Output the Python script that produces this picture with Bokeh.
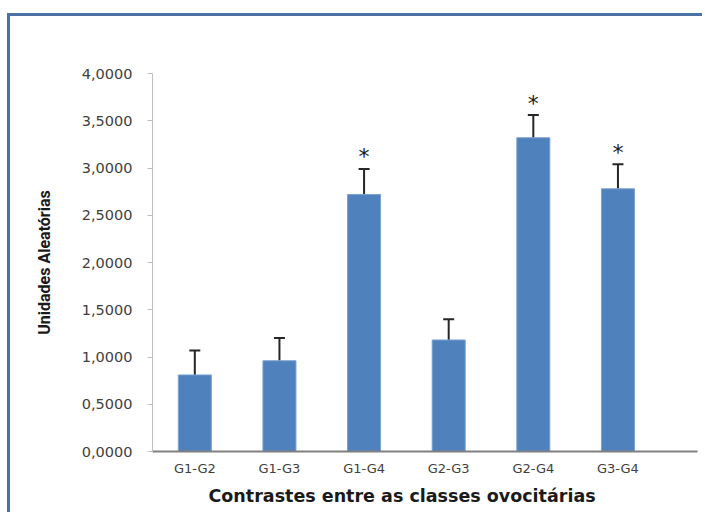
from bokeh.plotting import figure
from bokeh.models import ColumnDataSource, Whisker, TeeHead, FixedTicker, Title, InlineStyleSheet
from bokeh.core.properties import value
from bokeh.embed import file_html
from bokeh.resources import INLINE

# ---- data ----
categories = ["G1-G2", "G1-G3", "G1-G4", "G2-G3", "G2-G4", "G3-G4"]
means = [0.81, 0.96, 2.72, 1.18, 3.32, 2.78]
errors = [0.26, 0.24, 0.27, 0.22, 0.24, 0.26]
significance = ["", "", "*", "", "*", "*"]
y_ticks = [0.0, 0.5, 1.0, 1.5, 2.0, 2.5, 3.0, 3.5, 4.0]
y_tick_labels = ["0,0000", "0,5000", "1,0000", "1,5000", "2,0000",
                 "2,5000", "3,0000", "3,5000", "4,0000"]

xpos = [i + 0.5 for i in range(len(categories))]
upper = [m + e for m, e in zip(means, errors)]

src = ColumnDataSource(dict(x=xpos, top=means, upper=upper, sig=significance))

frame_css = InlineStyleSheet(css=""":host {
  margin-left: 7px; margin-top: 13px;
  border-left: 3px solid #4a72a4; border-top: 3px solid #4a72a4;
}""")

p = figure(width=695, height=499, output_backend="svg", toolbar_location=None,
           x_range=(0, 6.44), y_range=(0, 4),
           min_border_left=142, min_border_right=8, min_border_top=57, min_border_bottom=64,
           stylesheets=[frame_css])
p.background_fill_color = "white"
p.border_fill_color = "white"
p.outline_line_color = None
p.xgrid.visible = False
p.ygrid.visible = False

# bars
p.vbar(x="x", top="top", bottom=0, width=0.39, source=src,
       fill_color="#4f81bd", line_color="#7aa0d0", line_width=1)

# error bars (upward)
wh = Whisker(base="x", upper="upper", lower="top", source=src,
             line_color="#262626", line_width=2,
             upper_head=TeeHead(size=11, line_color="#262626", line_width=2),
             lower_head=None)
p.add_layout(wh)

# significance markers
p.text(x="x", y="upper", text="sig", source=src, text_align="center",
       text_baseline="alphabetic", y_offset=-12, text_font=value("DejaVu Sans"),
       text_font_size="22px", text_color="#1a1a1a")

# y axis
p.yaxis.ticker = FixedTicker(ticks=y_ticks)
p.yaxis.major_label_overrides = {t: l for t, l in zip(y_ticks, y_tick_labels)}
p.yaxis.minor_tick_line_color = None
p.yaxis.axis_line_color = "#bfbfbf"
p.yaxis.major_tick_line_color = "#bfbfbf"
p.yaxis.major_tick_out = 5
p.yaxis.major_tick_in = 0
p.yaxis.major_label_standoff = 15
p.yaxis.major_label_text_font = "DejaVu Sans"
p.yaxis.major_label_text_font_size = "14.5px"
p.yaxis.major_label_text_color = "#404040"
p.yaxis.axis_label = "Unidades Aleatórias"
p.yaxis.axis_label_text_font = "Roboto"
p.yaxis.axis_label_text_font_style = "bold"
p.yaxis.axis_label_text_font_size = "16px"
p.yaxis.axis_label_text_color = "#1a1a1a"
p.yaxis.axis_label_standoff = 25

# x axis
p.xaxis.ticker = FixedTicker(ticks=xpos)
p.xaxis.major_label_overrides = {x: c for x, c in zip(xpos, categories)}
p.xaxis.minor_tick_line_color = None
p.xaxis.major_tick_line_color = None
p.xaxis.major_tick_out = 0
p.xaxis.major_tick_in = 0
p.xaxis.axis_line_color = "#808080"
p.xaxis.axis_line_width = 2
p.xaxis.major_label_standoff = 9
p.xaxis.major_label_text_font = "DejaVu Sans"
p.xaxis.major_label_text_font_size = "13px"
p.xaxis.major_label_text_color = "#404040"

xtitle = Title(text="Contrastes entre as classes ovocitárias", align="left",
               offset=56, standoff=11, text_font="DejaVu Sans",
               text_font_style="bold", text_font_size="17.5px", text_color="#1a1a1a")
p.add_layout(xtitle, "below")

open("out.html", "w").write(file_html(p, INLINE))
